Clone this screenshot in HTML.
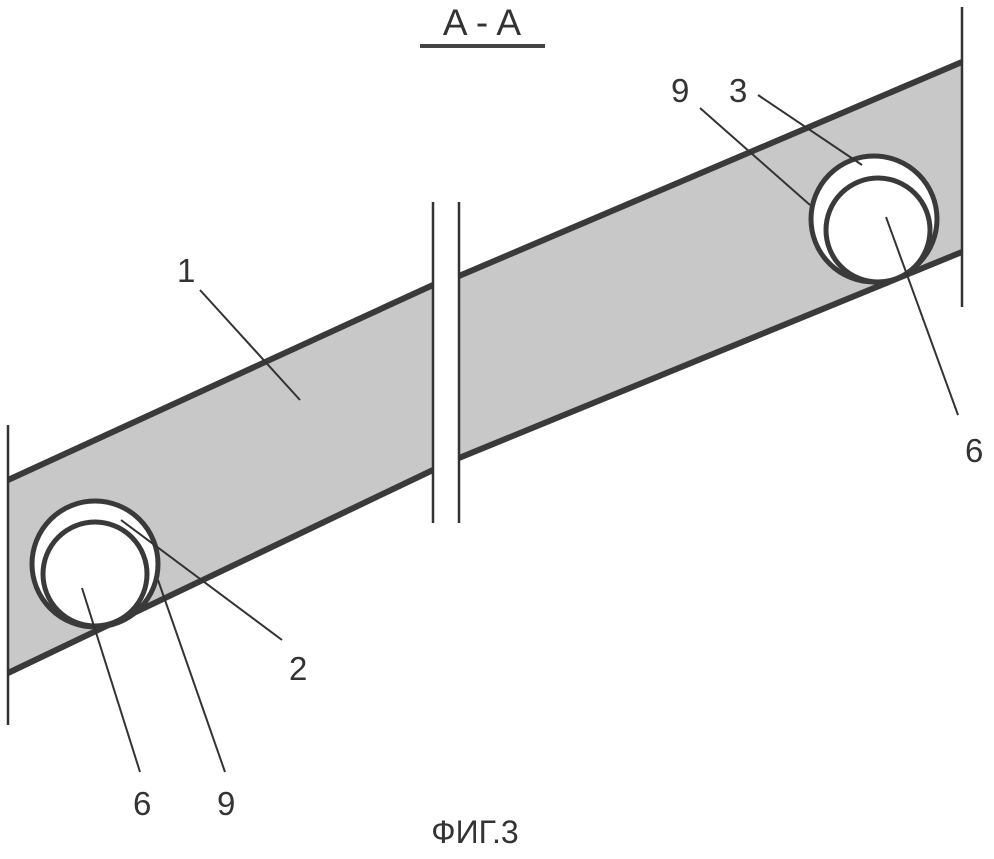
<!DOCTYPE html>
<html><head><meta charset="utf-8"><style>
html,body{margin:0;padding:0;background:#fff;}
svg text{font-family:"Liberation Sans",sans-serif;fill:#333;}
</style></head><body>
<svg width="994" height="854" viewBox="0 0 994 854" xmlns="http://www.w3.org/2000/svg">
<rect width="994" height="854" fill="#fff"/>
<polygon points="8,480 433,285 433,470 8,673" fill="#c8c8c8"/>
<polygon points="459,276 962,62 962,252 459,458" fill="#c8c8c8"/>
<g stroke="#3a3a3a" stroke-width="6" fill="none">
<line x1="8" y1="480" x2="433" y2="285"/>
<line x1="8" y1="673" x2="433" y2="470"/>
<line x1="459" y1="276" x2="962" y2="62"/>
<line x1="459" y1="458" x2="962" y2="252"/>
</g>
<g stroke="#333" stroke-width="2.5">
<line x1="8" y1="425" x2="8" y2="725"/>
<line x1="962" y1="7" x2="962" y2="307"/>
<line x1="433" y1="202" x2="433" y2="523"/>
<line x1="459" y1="202" x2="459" y2="523"/>
</g>
<circle cx="95" cy="564" r="63" fill="#fff" stroke="#3a3a3a" stroke-width="5"/>
<circle cx="95" cy="574" r="52" fill="#fff" stroke="#3a3a3a" stroke-width="5"/>
<circle cx="874" cy="219" r="63" fill="#fff" stroke="#3a3a3a" stroke-width="5"/>
<circle cx="878" cy="230" r="52" fill="#fff" stroke="#3a3a3a" stroke-width="5"/>
<g stroke="#333" stroke-width="2">
<line x1="200" y1="290" x2="300" y2="400"/>
<line x1="700" y1="108" x2="810" y2="205"/>
<line x1="758" y1="95" x2="862" y2="165"/>
<line x1="886" y1="217" x2="958" y2="415"/>
<line x1="121" y1="520" x2="282" y2="640"/>
<line x1="158" y1="580" x2="225" y2="772"/>
<line x1="82" y1="588" x2="140" y2="772"/>
</g>
<g font-size="33">
<text x="177" y="282">1</text>
<text x="671" y="102">9</text>
<text x="729" y="102">3</text>
<text x="965" y="462">6</text>
<text x="289" y="680">2</text>
<text x="217" y="815">9</text>
<text x="133" y="815">6</text>
</g>
<text x="482" y="35" font-size="37" text-anchor="middle">A - A</text>
<rect x="420" y="44" width="125" height="4" fill="#444"/>
<text x="475" y="843" font-size="32" text-anchor="middle">ФИГ.3</text>
</svg>
</body></html>
